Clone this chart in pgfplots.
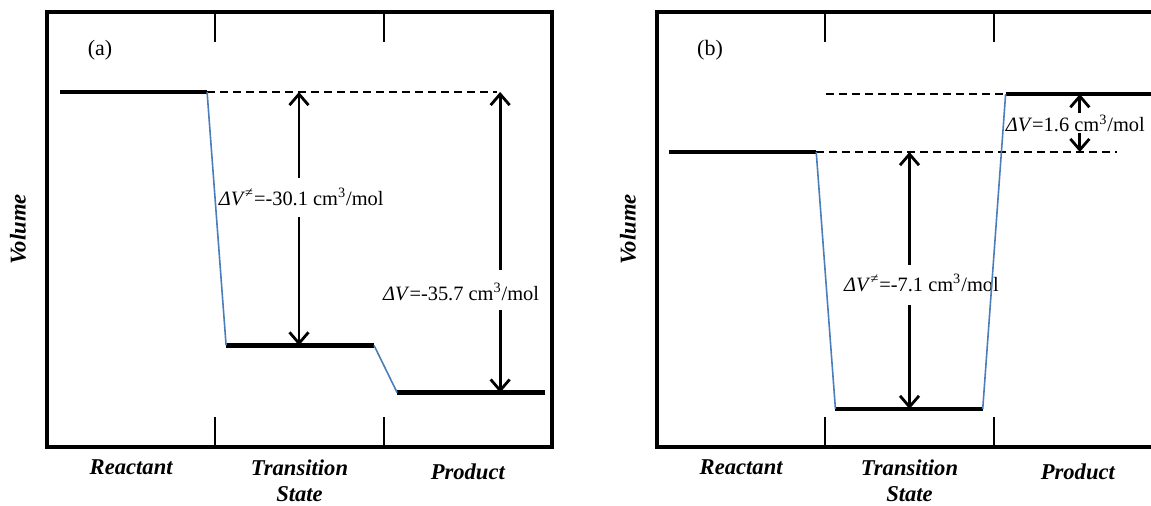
\documentclass[border=0pt]{standalone}
\usepackage{fontspec}
\setmainfont{Liberation Serif}
\usepackage{pgfplots}
\pgfplotsset{compat=1.18}
\usetikzlibrary{arrows.meta}
\definecolor{linkblue}{HTML}{4A7EBB}

\begin{document}
\begin{tikzpicture}
\tikzset{
  note/.style={font=\fontsize{10.2}{12}\selectfont, inner sep=0pt},
  panel/.style={font=\fontsize{11}{13}\selectfont},
}
\pgfplotsset{
  levelpanel/.style={
    scale only axis, width=252.5pt, height=217.5pt,
    xmin=0, xmax=3,
    axis line style={line width=2pt, line cap=rect},
    xtick={1,2}, xticklabels={},
    ytick=\empty,
    tick align=inside,
    major tick length=15pt,
    tick style={line width=1pt, black},
    extra x ticks={0.5,1.5,2.5},
    extra x tick labels={Reactant, {Transition\\State}, \raisebox{-2pt}[\height]{Product}},
    extra x tick style={major tick length=0pt},
    xticklabel style={font=\fontsize{11.3}{13.2}\selectfont\bfseries\itshape,
      align=center, anchor=north, yshift=-6pt, inner ysep=0pt},
    ylabel={Volume},
    ylabel style={at={(axis description cs:-0.0574,0.5)}, anchor=center,
      font=\fontsize{11.3}{13.5}\selectfont\bfseries\itshape},
    clip=false,
  },
  level/.style={black, line width=2.2pt},
  link/.style={linkblue, line width=0.8pt},
  guide/.style={black, line width=0.7pt, dash pattern=on 4pt off 2.5pt},
  dv/.style={black, line width=1.4pt, -{Straight Barb[length=5.5pt,width=9.5pt]}},
}

% ---------------- (a) ----------------
\begin{axis}[levelpanel, at={(23.5pt,29.5pt)}, anchor=south west,
  ymin=-42.16, ymax=9.50]
  % volume levels
  \addplot[level] coordinates {(0.077,0) (0.951,0)};
  \addplot[level] coordinates {(1.064,-30.1) (1.943,-30.1)};
  \addplot[level] coordinates {(2.080,-35.7) (2.959,-35.7)};
  % reference line at the reactant volume
  \addplot[guide] coordinates {(0.951,0) (2.674,0)};
  % activation volume
  \addplot[dv] coordinates {(1.497,-10.21) (1.497,0)};
  \addplot[dv] coordinates {(1.497,-14.85) (1.497,-30.1)};
  % reaction volume
  \addplot[dv] coordinates {(2.692,-21.14) (2.692,0)};
  \addplot[dv] coordinates {(2.692,-25.89) (2.692,-35.7)};
  \node[note] at (axis cs:1.51,-12.47) {\textit{ΔV}\textsuperscript{≠}=-30.1 cm\textsuperscript{3}/mol};
  \node[note] at (axis cs:2.46,-23.75) {\textit{ΔV}=-35.7 cm\textsuperscript{3}/mol};
  % connectors
  \addplot[link] coordinates {(0.951,0) (1.064,-30.1)};
  \addplot[link] coordinates {(1.943,-30.1) (2.080,-35.7)};
  \node[panel] at (rel axis cs:0.105,0.913) {(a)};
\end{axis}

% ---------------- (b) ----------------
\begin{axis}[levelpanel, at={(328.5pt,29.5pt)}, anchor=south west,
  ymin=-8.15, ymax=3.87]
  \addplot[level] coordinates {(0.071,0) (0.946,0)};
  \addplot[level] coordinates {(1.060,-7.1) (1.935,-7.1)};
  \addplot[level] coordinates {(2.071,1.6) (3.0,1.6)};
  \addplot[guide] coordinates {(0.946,0) (2.732,0)};
  \addplot[guide] coordinates {(1.006,1.6) (2.071,1.6)};
  % activation volume
  \addplot[dv] coordinates {(1.500,-3.12) (1.500,0)};
  \addplot[dv] coordinates {(1.500,-4.23) (1.500,-7.1)};
  % reaction volume
  \addplot[dv] coordinates {(2.512,1.08) (2.512,1.6)};
  \addplot[dv] coordinates {(2.512,0.52) (2.512,0)};
  \node[note] at (axis cs:1.571,-3.62) {\textit{ΔV}\textsuperscript{≠}=-7.1 cm\textsuperscript{3}/mol};
  \node[note] at (axis cs:2.485,0.80) {\textit{ΔV}=1.6 cm\textsuperscript{3}/mol};
  \addplot[link] coordinates {(0.946,0) (1.060,-7.1)};
  \addplot[link] coordinates {(1.935,-7.1) (2.071,1.6)};
  \node[panel] at (rel axis cs:0.105,0.913) {(b)};
\end{axis}

\pgfresetboundingbox
\path[use as bounding box] (0,0) rectangle (575.5pt,253pt);
\end{tikzpicture}
\end{document}
